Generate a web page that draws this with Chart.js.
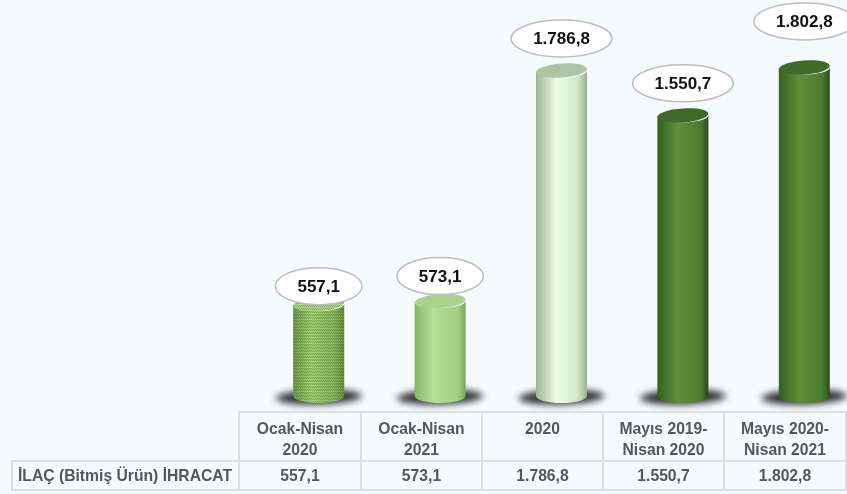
<!DOCTYPE html>
<html>
<head>
<meta charset="utf-8">
<script src="https://cdn.jsdelivr.net/npm/chart.js@4/dist/chart.umd.min.js"></script>
<style>
  html, body { margin:0; padding:0; background:#f5fafd; }
  #wrap { position:relative; width:847px; height:494px; overflow:hidden; background:#f5fafd; }
  #c { position:absolute; left:0; top:0; }
  #tbl { position:absolute; left:11px; top:411px; border-collapse:collapse; table-layout:fixed;
         font-family:"Liberation Sans", Arial, sans-serif; font-size:15.7px; font-weight:bold; color:#575757; }
  #tbl td { border:2px solid #dadfe2; text-align:center; padding:0; box-sizing:border-box; }
  #tbl tr.h td { height:49px; line-height:21px; vertical-align:top; padding-top:5px; }
  #tbl tr.h td.blank { border-top:none; border-left:none; }
  #tbl tr.d td { height:29px; line-height:26px; vertical-align:middle; }
  #tbl tr.d td.name { text-align:left; padding-left:5px; }
</style>
</head>
<body>
<div id="wrap">
  <canvas id="c" width="847" height="494"></canvas>
  <table id="tbl"></table>
</div>
<script>
// ---- data ----
const categories = [["Ocak-Nisan","2020"],["Ocak-Nisan","2021"],["2020"],["Mayıs 2019-","Nisan 2020"],["Mayıs 2020-","Nisan 2021"]];
const seriesName = "İLAÇ (Bitmiş Ürün) İHRACAT";
const values = [557.1, 573.1, 1786.8, 1550.7, 1802.8];

// ---- styles ----
const labelLift = [18, 25, 32, 32, 46];
const cylStyles = [
  {stops:[[0,'#6a9443'],[0.35,'#9ccb6c'],[0.8,'#86b45a'],[1,'#5f8a3c']], cap:'#a6d07c', pattern:true},
  {stops:[[0,'#86b366'],[0.35,'#b5de97'],[0.85,'#a2cd83'],[1,'#7aa35a']], cap:'#a9d28c'},
  {stops:[[0,'#9fb495'],[0.4,'#effde6'],[0.8,'#d5e8cb'],[1,'#9bb292']], cap:'#b0c4a5'},
  {stops:[[0,'#36601f'],[0.4,'#5d903a'],[0.85,'#4c7b2f'],[1,'#2c4a1a']], cap:'#3f6a27'},
  {stops:[[0,'#36601f'],[0.4,'#5d903a'],[0.85,'#4c7b2f'],[1,'#2c4a1a']], cap:'#3f6a27'}
];

function fmtTR(v){
  const s = v.toFixed(1).split('.');
  const intp = s[0].replace(/\B(?=(\d{3})+(?!\d))/g, '.');
  return intp + ',' + s[1];
}

// ---- table ----
(function(){
  const t = document.getElementById('tbl');
  const colw = [227,122,121,121,121,122];
  let cg = '<colgroup>' + colw.map(w=>'<col style="width:'+w+'px">').join('') + '</colgroup>';
  let h = '<tr class="h"><td class="blank"></td>' + categories.map(c=>'<td>'+c.join('<br>')+'</td>').join('') + '</tr>';
  let d = '<tr class="d"><td class="name">'+seriesName+'</td>' + values.map(v=>'<td>'+fmtTR(v)+'</td>').join('') + '</tr>';
  t.innerHTML = cg + h + d;
})();

// dot pattern
function makePattern(ctx){
  const p = document.createElement('canvas');
  p.width = 2; p.height = 3;
  const g = p.getContext('2d');
  g.fillStyle = 'rgba(40,80,20,0.28)';
  g.fillRect(0,0,1,1);
  g.fillRect(1,2,1,1);
  g.fillStyle = 'rgba(255,255,255,0.12)';
  g.fillRect(1,1,1,1);
  return ctx.createPattern(p,'repeat');
}

const DX = 20, FLOOR = 14, RY = 7;

const cylPlugin = {
  id:'cyl',
  afterDatasetsDraw(chart){
    const ctx = chart.ctx;
    const meta = chart.getDatasetMeta(0);
    // shadows first
    meta.data.forEach((bar,i)=>{
      const cx = bar.x + DX, yb = bar.base - FLOOR, w = bar.width;
      ctx.save();
      ctx.filter = 'blur(3.5px)';
      ctx.fillStyle = 'rgba(30,30,30,0.92)';
      ctx.translate(cx, yb + 1);
      ctx.transform(1,0,-0.9,1,0,0);
      ctx.beginPath();
      ctx.ellipse(0, 0, w/2+17, 7.5, 0, 0, Math.PI*2);
      ctx.fill();
      ctx.restore();
    });
    meta.data.forEach((bar,i)=>{
      const st = cylStyles[i];
      const cx = bar.x + DX, yt = bar.y, yb = bar.base - FLOOR, w = bar.width, r = w/2;
      ctx.save();
      const g = ctx.createLinearGradient(cx-r,0,cx+r,0);
      st.stops.forEach(s=>g.addColorStop(s[0],s[1]));
      ctx.beginPath();
      ctx.moveTo(cx-r, yt);
      ctx.lineTo(cx-r, yb);
      ctx.ellipse(cx, yb, r, RY, 0, Math.PI, 0, true);
      ctx.lineTo(cx+r, yt);
      ctx.ellipse(cx, yt, r, RY, 0, 0, Math.PI, false);
      ctx.closePath();
      ctx.fillStyle = g;
      ctx.fill();
      if (st.pattern){ ctx.fillStyle = makePattern(ctx); ctx.fill(); }
      // top cap
      ctx.beginPath();
      ctx.ellipse(cx, yt, r, RY, -0.07, 0, Math.PI*2);
      ctx.fillStyle = st.cap;
      ctx.fill();
      if (st.pattern){ ctx.fillStyle = makePattern(ctx); ctx.fill(); }
      ctx.restore();
    });
    // labels
    ctx.save();
    ctx.font = 'bold 17px "Liberation Sans", Arial, sans-serif';
    ctx.textAlign = 'center';
    ctx.textBaseline = 'middle';
    meta.data.forEach((bar,i)=>{
      const cx = bar.x + DX, cy = bar.y - labelLift[i];
      const txt = fmtTR(values[i]);
      const tw = ctx.measureText(txt).width;
      const rx = (tw + 44)/2, ry = 18.5;
      ctx.beginPath();
      ctx.ellipse(cx, cy, rx, ry, 0, 0, Math.PI*2);
      ctx.fillStyle = '#ffffff';
      ctx.fill();
      ctx.lineWidth = 1.5;
      ctx.strokeStyle = '#bdbdbd';
      ctx.stroke();
      ctx.fillStyle = '#111111';
      ctx.fillText(txt, cx, cy+1);
    });
    ctx.restore();
  }
};

new Chart(document.getElementById('c'), {
  type:'bar',
  data:{
    labels: categories.map(c=>c.join(' ')),
    datasets:[{ label: seriesName, data: values, backgroundColor:'rgba(0,0,0,0)', borderWidth:0,
                barPercentage:0.42, categoryPercentage:1 }]
  },
  options:{
    responsive:false,
    animation:false,
    layout:{ padding:{ left:238, right:2, top:30, bottom:84 } },
    plugins:{ legend:{display:false}, tooltip:{enabled:false} },
    scales:{
      x:{ display:false },
      y:{ display:false, min:0, max:2000 }
    }
  },
  plugins:[cylPlugin]
});
</script>
</body>
</html>
